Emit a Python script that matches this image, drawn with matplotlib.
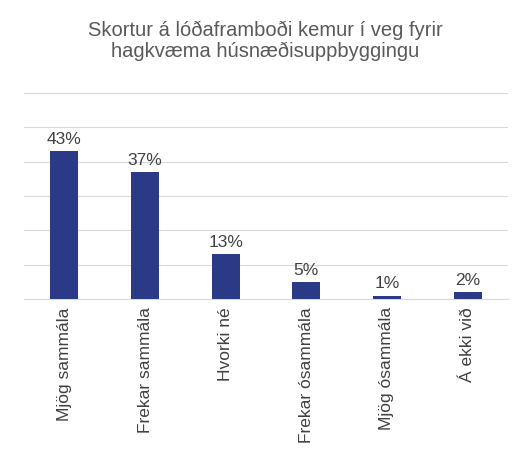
import matplotlib
matplotlib.use("Agg")
import matplotlib.pyplot as plt

categories = ["Mjög sammála", "Frekar sammála", "Hvorki né", "Frekar ósammála", "Mjög ósammála", "Á ekki við"]
values = [43, 37, 13, 5, 1, 2]

plt.rcParams['font.family'] = ['Liberation Sans', 'DejaVu Sans']
fig = plt.figure(figsize=(5.31, 4.72), dpi=100)
ax = fig.add_axes([24/531, 1-299/472, 484/531, (299-93)/472])
x = range(len(categories))
ax.bar(x, values, width=0.35, color="#2b3a87", zorder=3)
for i, v in zip(x, values):
    ax.text(i, v + 1.2, f"{v}%", ha="center", va="bottom", fontsize=12.5, color="#404040")
ax.set_ylim(0, 60)
ax.set_xlim(-0.5, len(categories) - 0.5)
ax.set_yticks(range(0, 61, 10))
ax.set_yticklabels([])
ax.tick_params(axis="y", length=0)
ax.tick_params(axis="x", length=0, pad=6)
ax.grid(axis="y", color="#d9d9d9", linewidth=0.8, zorder=0)
ax.set_xticks(list(x))
ax.set_xticklabels(categories, rotation=90, fontsize=12.5, color="#404040")
for s in ["top", "right", "left"]:
    ax.spines[s].set_visible(False)
ax.spines["bottom"].set_color("#d9d9d9")
fig.text(0.5, 1-41/472, "Skortur á lóðaframboði kemur í veg fyrir\nhagkvæma húsnæðisuppbyggingu",
         ha="center", va="center", fontsize=14.5, color="#595959", linespacing=1.1)
fig.savefig("out.png", dpi=100)
